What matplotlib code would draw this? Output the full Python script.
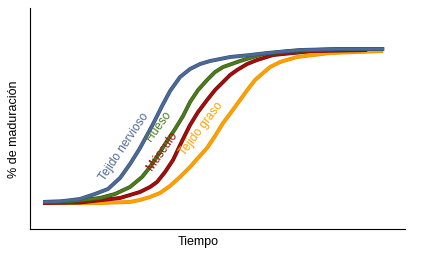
import matplotlib.pyplot as plt
import matplotlib.patheffects as pe

plt.rcParams['font.family'] = ['Liberation Sans', 'DejaVu Sans']

# tiempo (0-100) y % de maduración (0-100)
nerv_x = [3.47, 8.0, 13.33, 17.33, 20.8, 24.0, 26.67, 29.33, 32.8, 35.2, 37.33, 40.0, 42.67,
          45.33, 48.0, 53.33, 58.67, 63.2, 72.0, 82.67, 94.4]
nerv_y = [12.22, 12.44, 13.57, 15.84, 18.1, 23.08, 29.41, 36.65, 47.51, 55.66, 62.44, 68.78, 72.4,
          74.66, 76.02, 77.83, 78.73, 79.64, 81.0, 81.45, 81.45]

hueso_x = [3.47, 10.67, 18.67, 22.67, 26.67, 29.87, 32.0, 34.67, 36.53, 38.67, 40.8, 42.67, 44.8,
           47.2, 49.33, 51.47, 56.0, 62.13, 69.33, 82.67, 94.4]
hueso_y = [12.22, 12.44, 14.03, 15.84, 19.0, 23.53, 28.05, 34.84, 39.82, 45.25, 51.13, 57.47, 62.9,
           67.42, 71.04, 73.3, 76.02, 79.19, 80.54, 81.45, 81.45]

musc_x = [3.47, 13.33, 24.0, 29.33, 32.0, 33.87, 36.0, 38.13, 40.53, 42.67, 44.8, 47.2, 49.33,
          51.47, 53.33, 55.2, 57.87, 60.53, 64.8, 75.47, 89.87]
musc_y = [11.76, 11.99, 14.03, 16.74, 19.0, 21.27, 25.79, 31.22, 39.82, 47.06, 52.94, 58.37, 62.9,
          66.52, 69.68, 71.95, 74.66, 76.47, 78.73, 80.54, 81.0]

graso_x = [3.47, 18.67, 26.67, 29.33, 32.0, 34.67, 37.33, 40.0, 42.67, 44.53, 47.2, 49.33, 51.47,
           53.87, 56.0, 58.13, 60.0, 62.13, 64.0, 66.67, 71.2, 80.0, 94.13]
graso_y = [11.76, 11.76, 12.22, 13.12, 14.48, 16.29, 19.46, 23.53, 28.05, 31.67, 36.65, 42.08, 47.96,
           53.39, 58.37, 63.35, 67.42, 70.59, 73.3, 75.57, 77.83, 79.64, 80.54]

series = [
    ("Tejido graso", graso_x, graso_y, '#FFA000', '#E89000', 45.6, 45.2, 53),
    ("Músculo", musc_x, musc_y, '#A00F0F', '#7A0808', 35.3, 35.2, 55),
    ("Hueso", hueso_x, hueso_y, '#4B7B1D', '#355A12', 34.4, 46.6, 54),
    ("Tejido nervioso", nerv_x, nerv_y, '#4D6A97', '#34507A', 25.2, 37.2, 56),
]

fig = plt.figure(figsize=(4.21, 2.59), dpi=100)
ax = fig.add_axes([0.0713, 0.116, 0.891, 0.853])

for name, x, y, c, edge, tx, ty, rot in series:
    ax.plot(x, y, color=c, lw=2.0, solid_joinstyle='round', solid_capstyle='butt',
            path_effects=[pe.Stroke(linewidth=2.8, foreground=edge), pe.Normal()])
    ax.text(tx, ty, name, color=c, fontsize=8.6, rotation=rot,
            ha='center', va='center', rotation_mode='anchor')

ax.set_xlim(0, 100)
ax.set_ylim(0, 100)
ax.set_xticks([])
ax.set_yticks([])
for s in ['top', 'right']:
    ax.spines[s].set_visible(False)

ax.set_xlabel("Tiempo", fontsize=9, labelpad=5)
ax.xaxis.label.set_x(0.448)
ax.set_ylabel("% de maduración", fontsize=9, labelpad=7)
ax.yaxis.label.set_y(0.452)

fig.savefig("out.png", dpi=100)
